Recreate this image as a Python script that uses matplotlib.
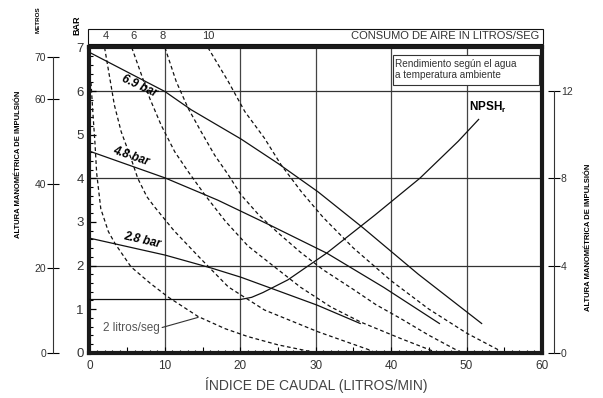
import matplotlib
matplotlib.use("Agg")
import matplotlib.pyplot as plt
from matplotlib.patches import Rectangle
from matplotlib.ticker import MultipleLocator, FuncFormatter

plt.rcParams["font.family"] = ["Liberation Sans", "DejaVu Sans"]
NARROW = ["Liberation Sans Narrow", "Liberation Sans", "DejaVu Sans"]

# performance curves: caudal (litros/min) -> presion (bar)
flow_69 = [0.2, 10, 13.5, 20.1, 25, 30.3, 36.3, 43.6, 52]
head_69 = [6.87, 5.99, 5.57, 4.90, 4.34, 3.69, 2.86, 1.80, 0.67]
flow_48 = [0.2, 10, 17, 24, 31.5, 39, 46.4]
head_48 = [4.61, 4.01, 3.50, 2.92, 2.28, 1.50, 0.67]
flow_28 = [0.2, 10, 16.2, 20.1, 25, 30.2, 35.9]
head_28 = [2.62, 2.24, 1.94, 1.73, 1.42, 1.09, 0.67]
curve_labels = ["6.9 bar", "4.8 bar", "2.8 bar"]

# NPSHr curve
flow_npsh = [0, 20, 21.5, 23, 26.3, 31.5, 37.8, 43.8, 48.9, 51.6]
npsh = [1.22, 1.22, 1.27, 1.38, 1.67, 2.29, 3.15, 4.0, 4.85, 5.35]

# air consumption curves (litros/seg)
air_2_flow = [0.2, 0.45, 0.73, 0.95, 1.5, 2.5, 3.4, 5.5, 8, 10.4, 14.4, 18, 21, 25, 29.5]
air_2_head = [6.2, 5.5, 4.8, 4.12, 3.3, 2.78, 2.5, 1.97, 1.6, 1.28, 0.83, 0.55, 0.37, 0.18, 0.02]
air_4_flow = [2.0, 2.7, 3.3, 4.2, 5.5, 6.4, 7.6, 8.6, 11.2, 14.5, 18.4, 23.2, 30.3, 37.5]
air_4_head = [7.0, 6.29, 5.68, 5.07, 4.46, 4.0, 3.58, 3.35, 2.8, 2.2, 1.51, 0.98, 0.48, 0.04]
air_6_flow = [5.6, 6.9, 8.0, 9.5, 11.3, 13.1, 15.3, 18, 21, 24.3, 28, 32, 36, 41.2, 45.5]
air_6_head = [7.0, 6.37, 5.83, 5.22, 4.61, 4.15, 3.62, 3.02, 2.45, 2.0, 1.5, 1.05, 0.7, 0.33, 0.04]
air_8_flow = [10.0, 11.5, 13.1, 14.8, 16.6, 18.4, 20.1, 22.5, 25, 28, 31, 35, 38, 41.2, 45, 49]
air_8_head = [7.0, 6.22, 5.6, 5.07, 4.53, 4.08, 3.62, 3.15, 2.75, 2.3, 1.9, 1.45, 1.1, 0.79, 0.4, 0.03]
air_10_flow = [15.7, 18.4, 20.6, 23.2, 25.4, 28.1, 31, 35, 40, 45, 50, 54.5]
air_10_head = [7.0, 6.22, 5.53, 4.92, 4.31, 3.69, 3.1, 2.4, 1.65, 1.0, 0.45, 0.04]

air_top_labels = ["4", "6", "8", "10"]
air_top_x = [2.1, 5.8, 9.7, 15.7]

meters_ticks = [0, 20, 40, 60, 70]
right_ticks = [0, 4, 8, 12]
grid_x = [10, 20, 30, 40, 50]
grid_y = [2, 4, 6]

BAR_TO_M = 10.33
BAR_TO_RIGHT = 2.0

fig = plt.figure(figsize=(6.03, 3.98), dpi=100)
ax = fig.add_axes([0.1484, 0.1138, 0.7504, 0.7669])
ax.set_xlim(0, 60)
ax.set_ylim(0, 7)

for gx in grid_x:
    ax.axvline(gx, color="#444444", lw=0.9, zorder=1)
for gy in grid_y:
    ax.axhline(gy, color="#333333", lw=0.9, zorder=1)

dash = (0, (3.0, 2.2))
for fx, hy in [(air_2_flow, air_2_head), (air_4_flow, air_4_head), (air_6_flow, air_6_head),
               (air_8_flow, air_8_head), (air_10_flow, air_10_head)]:
    ax.plot(fx, hy, color="#111111", lw=0.9, linestyle=dash, zorder=2)

for fx, hy in [(flow_69, head_69), (flow_48, head_48), (flow_28, head_28)]:
    ax.plot(fx, hy, color="#111111", lw=0.9, zorder=3)
ax.plot(flow_npsh, npsh, color="#111111", lw=0.9, zorder=3)

# curve labels
label_pos = [(6.66, 6.10, -25), (5.46, 4.50, -19), (6.96, 2.57, -13)]
for text, (lx, ly, rot) in zip(curve_labels, label_pos):
    ax.text(lx, ly, text, rotation=rot, rotation_mode="anchor", ha="center", va="center",
            fontsize=8.5, fontweight="bold", fontstyle="italic", family=NARROW, zorder=5)
ax.text(52.8, 5.63, r"NPSH$_\mathregular{r}$", ha="center", va="center", fontsize=8.5,
        fontweight="bold", family=NARROW, zorder=5)
ax.annotate("2 litros/seg", xy=(14.4, 0.81), xytext=(5.5, 0.56), ha="center", va="center",
            fontsize=8.5, color="#555555", zorder=5,
            arrowprops=dict(arrowstyle="-", lw=0.8, color="#333333", shrinkA=0, shrinkB=0,
                            relpos=(1.0, 0.5)))

# note box
ax.add_patch(Rectangle((40.25, 6.14), 19.35, 0.69, facecolor="white", edgecolor="#333333",
                       lw=0.8, zorder=4))
ax.text(40.55, 6.49, "Rendimiento según el agua\na temperatura ambiente", ha="left", va="center",
        fontsize=7.2, color="#333333", linespacing=1.15, zorder=5)

# spines and ticks
for side in ["left", "right", "top", "bottom"]:
    ax.spines[side].set_linewidth(3)
    ax.spines[side].set_color("#1a1a1a")
ax.yaxis.set_major_locator(MultipleLocator(1))
ax.yaxis.set_minor_locator(MultipleLocator(0.2))
ax.xaxis.set_major_locator(MultipleLocator(5))
ax.xaxis.set_minor_locator(MultipleLocator(1))
ax.xaxis.set_major_formatter(FuncFormatter(lambda v, p: f"{v:.0f}" if v % 10 == 0 else ""))
ax.tick_params(axis="y", which="major", direction="in", length=5, width=0.9, labelsize=9.5,
               labelcolor="#333333", pad=4)
ax.tick_params(axis="y", which="minor", direction="in", length=2.8, width=0.8)
ax.tick_params(axis="x", which="major", direction="in", length=4.5, width=0.8, labelsize=8.5,
               labelcolor="#333333", pad=5)
ax.tick_params(axis="x", which="minor", direction="in", length=2.2, width=0.8)

# metros axis (left, outside)
sec_m = ax.secondary_yaxis(-0.0807, functions=(lambda b: b * BAR_TO_M, lambda m: m / BAR_TO_M))
sec_m.set_yticks(meters_ticks)
sec_m.spines["left"].set_bounds(0, 70)
sec_m.spines["left"].set_linewidth(0.8)
sec_m.spines["left"].set_color("#333333")
sec_m.tick_params(direction="inout", length=8, width=0.8, labelsize=7.5, labelcolor="#333333", pad=1)

# right axis
sec_r = ax.secondary_yaxis(1.0265, functions=(lambda b: b * BAR_TO_RIGHT, lambda v: v / BAR_TO_RIGHT))
sec_r.set_yticks(right_ticks)
sec_r.spines["right"].set_bounds(0, 12)
sec_r.spines["right"].set_linewidth(0.8)
sec_r.spines["right"].set_color("#333333")
sec_r.tick_params(direction="inout", length=8, width=0.8, labelsize=7.5, labelcolor="#333333", pad=1)

# top box for air consumption
top_tr = ax.get_xaxis_transform()
ax.add_patch(Rectangle((-0.004, 1.0115), 1.006, 0.049, transform=ax.transAxes, facecolor="white",
                       edgecolor="#111111", lw=0.8, clip_on=False))
ax.text(0.993, 1.036, "CONSUMO DE AIRE IN LITROS/SEG", transform=ax.transAxes, ha="right",
        va="center", fontsize=8, color="#333333")
for lab, lx in zip(air_top_labels, air_top_x):
    ax.text(lx, 1.036, lab, transform=top_tr, ha="center", va="center", fontsize=8, color="#333333")

# axis titles
fig.text(316 / 603, 1 - 385 / 398, "ÍNDICE DE CAUDAL (LITROS/MIN)", ha="center", va="center",
         fontsize=10, color="#444444")
fig.text(19 / 603, 1 - 164 / 398, "ALTURA MANOMÉTRICA DE IMPULSIÓN", rotation=90, ha="center",
         va="center", fontsize=5.5, fontweight="bold", family=NARROW)
fig.text(589 / 603, 1 - 237 / 398, "ALTURA MANOMÉTRICA DE IMPULSIÓN", rotation=90, ha="center",
         va="center", fontsize=5.5, fontweight="bold", family=NARROW)
fig.text(38 / 603, 1 - 20 / 398, "METROS", rotation=90, ha="center", va="center", fontsize=4.5,
         fontweight="bold", family=NARROW)
fig.text(77 / 603, 1 - 25 / 398, "BAR", rotation=90, ha="center", va="center", fontsize=6.5,
         fontweight="bold", family=NARROW)

fig.savefig("out.png", dpi=100)
